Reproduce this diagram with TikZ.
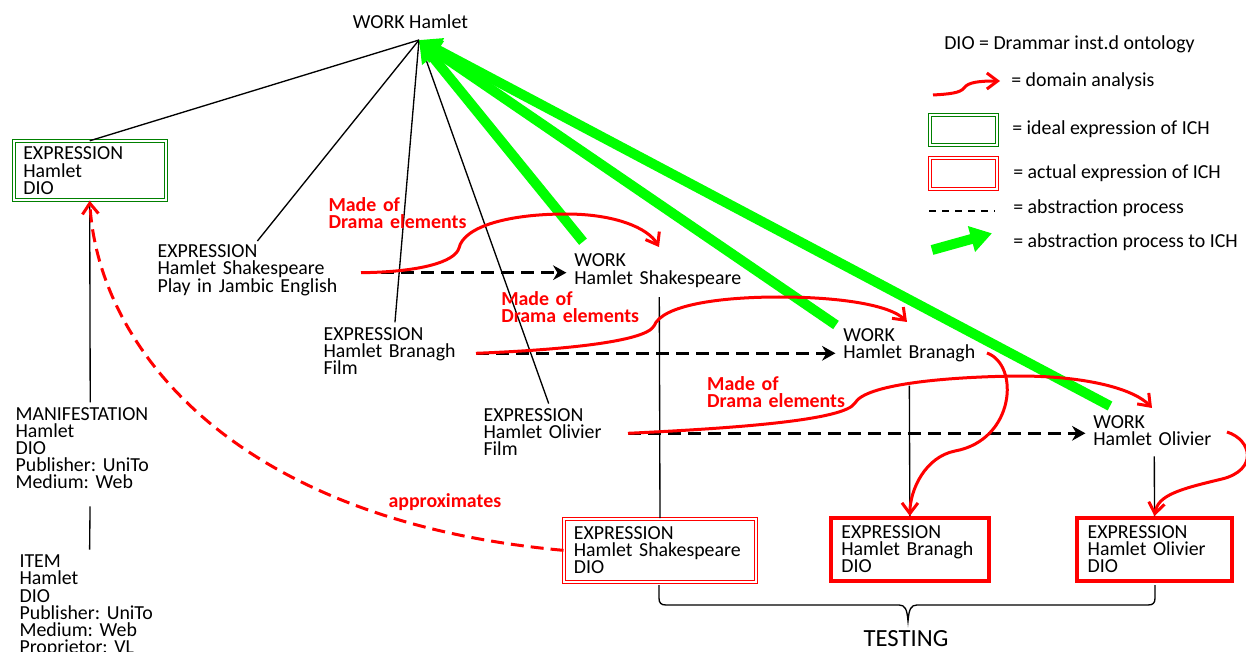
\documentclass[tikz,border=0pt]{standalone}
\usepackage{fontspec}
\setmainfont{Carlito}
\usetikzlibrary{arrows.meta}
\newcommand{\hamfont}{\fontsize{14.9}{12.9}\selectfont\lineskiplimit=-20pt\frenchspacing\relax}

\begin{document}
\begin{tikzpicture}[x=0.75pt,y=0.75pt,yscale=-1,xscale=1,
  every node/.style={font=\hamfont, inner sep=0pt},
  txt/.style={align=left, anchor=base west},
  redtxt/.style={txt, text=red, font=\hamfont\bfseries},
  idealbox/.style={draw=green!50!black, double=white, double distance=1.5pt, line width=0.75pt, align=left},
  actualbox/.style={draw=red, double=white, double distance=1.5pt, line width=0.75pt, align=left},
  testbox/.style={draw=red, line width=3pt, align=left},
  link/.style={line width=1pt},
  abstr/.style={line width=2.25pt, dash pattern=on 9.75pt off 5.25pt, -{Stealth[length=10pt,width=11pt]}},
  redflow/.style={red, line width=2.25pt, -{Straight Barb[length=8pt,width=12pt]}},
  toich/.style={green, line width=7.5pt, -{Triangle[length=16pt,width=19pt]}},
]
\useasboundingbox (0,0) rectangle (1246,652);

% Text Node
\node[txt] (workh) at (352.7,28.3) {WORK Hamlet};
\coordinate (apex) at (419,40);

%Shape: Rectangle
\node[idealbox, text width=99.6pt, inner xsep=7.2pt, minimum height=44.25pt] (exph) at (89.7,170.8) {EXPRESSION\\Hamlet\\DIO};

% Text Node
\node[txt, text width=145.5pt] (expsh) at (157.3,257.7) {EXPRESSION\\Hamlet Shakespeare\\Play in Jambic English};
% Text Node
\node[txt, text width=106.5pt] (expbr) at (323.3,340) {EXPRESSION\\Hamlet Branagh\\Film};
% Text Node
\node[txt, text width=100pt] (expol) at (483.3,421) {EXPRESSION\\Hamlet Olivier\\Film};
% Text Node
\node[txt, text width=112pt] (manif) at (15.3,420) {MANIFESTATION\\Hamlet\\DIO\\Publisher: UniTo\\Medium: Web};
% Text Node
\node[txt, text width=105pt] (item) at (19.3,567.7) {ITEM\\Hamlet\\DIO\\Publisher: UniTo\\Medium: Web\\Proprietor: VL};

% Text Node
\node[txt, text width=127.5pt] (worksh) at (574,267) {WORK\\Hamlet Shakespeare};
% Text Node
\node[txt, text width=99pt] (workbr) at (843,341) {WORK\\Hamlet Branagh};
% Text Node
\node[txt, text width=91.5pt] (workol) at (1093,428) {WORK\\Hamlet Olivier};

%Shape: Rectangle
\node[actualbox, text width=129.3pt, inner xsep=7.35pt, minimum height=47.5pt] (dioSh) at (660,550.35) {EXPRESSION\\Hamlet Shakespeare\\DIO};
%Shape: Rectangle
\node[testbox, text width=102.8pt, inner xsep=7.95pt, minimum height=47pt] (dioBr) at (909.85,549.35) {EXPRESSION\\Hamlet Branagh\\DIO};
%Shape: Rectangle
\node[testbox, text width=100.25pt, inner xsep=8pt, minimum height=47pt] (dioOl) at (1154.5,549.35) {EXPRESSION\\Hamlet Olivier\\DIO};

%Straight Lines
\draw[link] (apex) -- (exph.north);
\draw[link, shorten >=3.4pt] (apex) -- (expsh.north);
\draw[link, shorten >=3.4pt] (apex) -- (expbr.north);
\draw[link, shorten >=3.4pt] (apex) -- (expol.north);
\draw[link, shorten >=3.4pt] (exph.south) -- (manif.north);
\draw[link, shorten <=12.9pt, shorten >=3.75pt] (manif.south) -- (item.north);
\draw[link, shorten <=7.1pt] (worksh.south) -- (dioSh.north);
\draw[link, shorten <=17.9pt] (workbr.south) -- (dioBr.north);
\draw[link, shorten <=8.1pt] (workol.south) -- (dioOl.north);

%Brace
\draw[link] (659,585) -- (659,598) .. controls (659,603) and (661,605) .. (666,605) -- (899,605) .. controls (905,605) and (907,609) .. (908,621) .. controls (909,609) and (911,605) .. (917,605) -- (1148,605) .. controls (1153,605) and (1155,603) .. (1155,598) -- (1155,585);
% Text Node
\node[font=\fontsize{18.5}{20}\selectfont, anchor=base] (testing) at (906,646.7) {TESTING};

%Thick Arrows
\coordinate (g1) at (583,241.7);
\coordinate (g2) at (836,325);
\coordinate (g3) at (1110,406);
\draw[toich] (g1) -- (apex);
\draw[toich] (g2) -- (apex);
\draw[toich] (g3) -- (apex);

%Dashed Arrows
\coordinate (s1) at (361,272.7);
\coordinate (s2) at (476,353.3);
\coordinate (s3) at (628,433.3);
\draw[abstr, shorten >=5.7pt] (s1) -- (s1 -| worksh.west);
\draw[abstr, shorten >=5.7pt] (s2) -- (s2 -| workbr.west);
\draw[abstr, shorten >=5.7pt] (s3) -- (s3 -| workol.west);

%Curve Lines
\coordinate (d1) at (659,247);
\coordinate (d2) at (907,322);
\coordinate (d3) at (1152,408);
\draw[redflow] (s1) .. controls (420,272) and (455,262) .. (459,248) .. controls (464,226) and (510,214) .. (566,214) .. controls (615,214) and (648,228) .. (d1);
\draw[redflow] (s2) .. controls (560,350) and (645,342) .. (654,326) .. controls (662,305) and (720,297) .. (779,297) .. controls (840,297) and (890,305) .. (d2);
\draw[redflow] (s3) .. controls (740,428) and (845,420) .. (855,403) .. controls (865,385) and (940,377) .. (1018,376) .. controls (1090,376) and (1135,390) .. (d3);
\draw[redflow] (987,353) .. controls (1020,365) and (1015,440) .. (955,451) .. controls (925,457) and (910,490) .. (dioBr.north);
\draw[redflow] (1227,432) .. controls (1252,440) and (1258,470) .. (1222,479) .. controls (1180,489) and (1158,495) .. (dioOl.north);
\draw[redflow, dash pattern=on 9.75pt off 5.25pt] (dioSh.west) .. controls (230,520) and (98,345) .. (exph.south);

% Text Node
\node[redtxt, text width=110pt] (made1) at (328.3,211.7) {Made of\\Drama elements};
% Text Node
\node[redtxt, text width=110pt] (made2) at (501,305.7) {Made of\\Drama elements};
% Text Node
\node[redtxt, text width=110pt] (made3) at (706.9,390.7) {Made of\\Drama elements};
% Text Node
\node[redtxt] (approx) at (388.3,507.7) {approximates};

%Legend
\node[txt] (dioleg) at (944,50) {DIO = Drammar inst.d ontology};
\draw[redflow] (933,95) .. controls (950,94) and (960,93) .. (964,88) .. controls (968,82) and (980,81) .. (1000,81);
\node[txt] (domleg) at (1011,86.7) {= domain analysis};
\node[idealbox, minimum width=50.7pt, minimum height=22.95pt] (idealkey) at (963.5,130) {};
\node[txt] (idealleg) at (1012,135) {= ideal expression of ICH};
\node[actualbox, minimum width=50.25pt, minimum height=23.5pt] (actualkey) at (963.5,173.35) {};
\node[txt] (actleg) at (1013,179) {= actual expression of ICH};
\draw[line width=1.5pt, dash pattern=on 5.25pt off 4.5pt] (929,210.7) -- (995,210.7);
\node[txt] (absleg) at (1013,213.5) {= abstraction process};
\draw[toich] (932,250) -- (992,233.3);
\node[txt] (ichleg) at (1013,248) {= abstraction process to ICH};

\end{tikzpicture}
\end{document}
